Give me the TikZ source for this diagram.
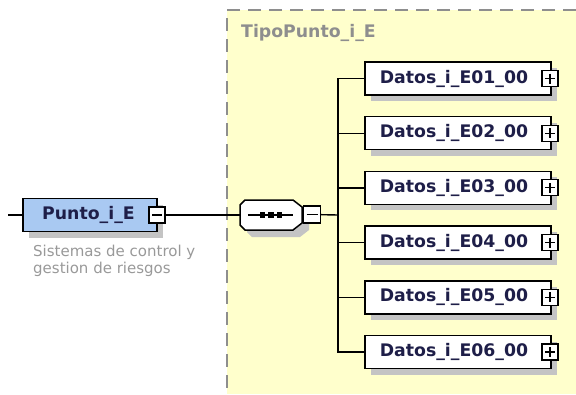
\documentclass[tikz,border=0pt]{standalone}
\usepackage{fontspec}
\setmainfont{DejaVu Sans}
\usetikzlibrary{shadows}
\definecolor{paneyellow}{HTML}{FFFFCC}
\definecolor{panedash}{HTML}{8E8E8E}
\definecolor{elemblue}{HTML}{A9C9F2}
\definecolor{elemtext}{HTML}{1E1E48}
\definecolor{notegray}{HTML}{999999}
\definecolor{shadowgray}{HTML}{C4C4C4}

\begin{document}
\begin{tikzpicture}[x=1pt,y=-1pt,
  every node/.style={font=\fontsize{17.3}{19}\selectfont\bfseries,text=elemtext},
  conn/.style={line width=1.4pt},
  elem/.style={draw,line width=1.5pt,fill=white,minimum width=186pt,minimum height=33pt,inner sep=0pt,
    drop shadow={shadow xshift=6pt,shadow yshift=-6pt,fill=shadowgray,opacity=1}},
  pmbox/.style={draw,line width=1.1pt,fill=white,minimum size=16pt,inner sep=0pt},
  plusbox/.style={pmbox,path picture={
    \draw[line width=1.1pt] ([xshift=3pt]path picture bounding box.west) -- ([xshift=-3pt]path picture bounding box.east);
    \draw[line width=1.1pt] ([yshift=-3pt]path picture bounding box.north) -- ([yshift=3pt]path picture bounding box.south);}},
  minusbox/.style={pmbox,path picture={
    \draw[line width=1.1pt] ([xshift=3pt]path picture bounding box.west) -- ([xshift=-3pt]path picture bounding box.east);}}]
  \useasboundingbox (0,0) rectangle (576,394);
  % complex type pane
  \fill[paneyellow] (227,10) rectangle (576,394);
  \draw[panedash,line width=1.5pt,dash pattern=on 13pt off 8pt] (576,10) -- (227,10) -- (227,394);
  \node[anchor=base west,inner sep=0pt,text=panedash] (title) at (241,37) {TipoPunto\_i\_E};

  % root element
  \node[elem,fill=elemblue,minimum width=134pt] (punto) at (90,215) {\hspace*{-3pt}Punto\_i\_E};
  \node[minusbox] (pm) at (157,215) {};
  \node[anchor=north west,inner sep=0pt,align=left,text=notegray,font=\fontsize{15}{16.5}\selectfont] (desc) at (33,245)
    {Sistemas de control y\\gestion de riesgos};

  % sequence
  \node[minimum width=62pt,minimum height=30pt,inner sep=0pt] (seq) at (271,215) {};
  \fill[shadowgray,shift={(7,7)}] (245,200) -- (293,200) -- (302,207) -- (302,223) -- (293,230)
    -- (245,230) -- (240,225) -- (240,205) -- cycle;
  \draw[line width=1.5pt,fill=white] (245,200) -- (293,200) -- (302,207) -- (302,223) -- (293,230)
    -- (245,230) -- (240,225) -- (240,205) -- cycle;
  \draw[line width=1.1pt] ([xshift=8pt]seq.west) -- ([xshift=-9pt]seq.east);
  \fill ([xshift=-8.5pt]seq.center) +(-2.6pt,-2.6pt) rectangle +(2.6pt,2.6pt);
  \fill (seq.center) +(-2.6pt,-2.6pt) rectangle +(2.6pt,2.6pt);
  \fill ([xshift=8.5pt]seq.center) +(-2.6pt,-2.6pt) rectangle +(2.6pt,2.6pt);
  \node[minusbox,minimum size=17pt] (sm) at (312,214.5) {};

  % child elements
  \node[elem] (d1) at (458,78.5) {\hspace*{-8pt}Datos\_i\_E01\_00};
  \node[elem] (d2) at (458,133.2) {\hspace*{-8pt}Datos\_i\_E02\_00};
  \node[elem] (d3) at (458,187.9) {\hspace*{-8pt}Datos\_i\_E03\_00};
  \node[elem] (d4) at (458,242.6) {\hspace*{-8pt}Datos\_i\_E04\_00};
  \node[elem] (d5) at (458,297.3) {\hspace*{-8pt}Datos\_i\_E05\_00};
  \node[elem] (d6) at (458,352) {\hspace*{-8pt}Datos\_i\_E06\_00};
  \node[plusbox] (p1) at (550,78.5) {};
  \node[plusbox] (p2) at (550,133.2) {};
  \node[plusbox] (p3) at (550,187.9) {};
  \node[plusbox] (p4) at (550,242.6) {};
  \node[plusbox] (p5) at (550,297.3) {};
  \node[plusbox] (p6) at (550,352) {};

  % connectors
  \coordinate (in) at (8,215);
  \coordinate (j) at (338,215);
  \draw[conn] (in) -- (punto);
  \draw[conn] (pm) -- (seq);
  \draw[conn] (sm) -- (j);
  \draw[conn] (d1) -| (j) |- (d6);
  \draw[conn] (d2) -- (d2 -| j);
  \draw[conn] (d3) -- (d3 -| j);
  \draw[conn] (d4) -- (d4 -| j);
  \draw[conn] (d5) -- (d5 -| j);
\end{tikzpicture}
\end{document}
